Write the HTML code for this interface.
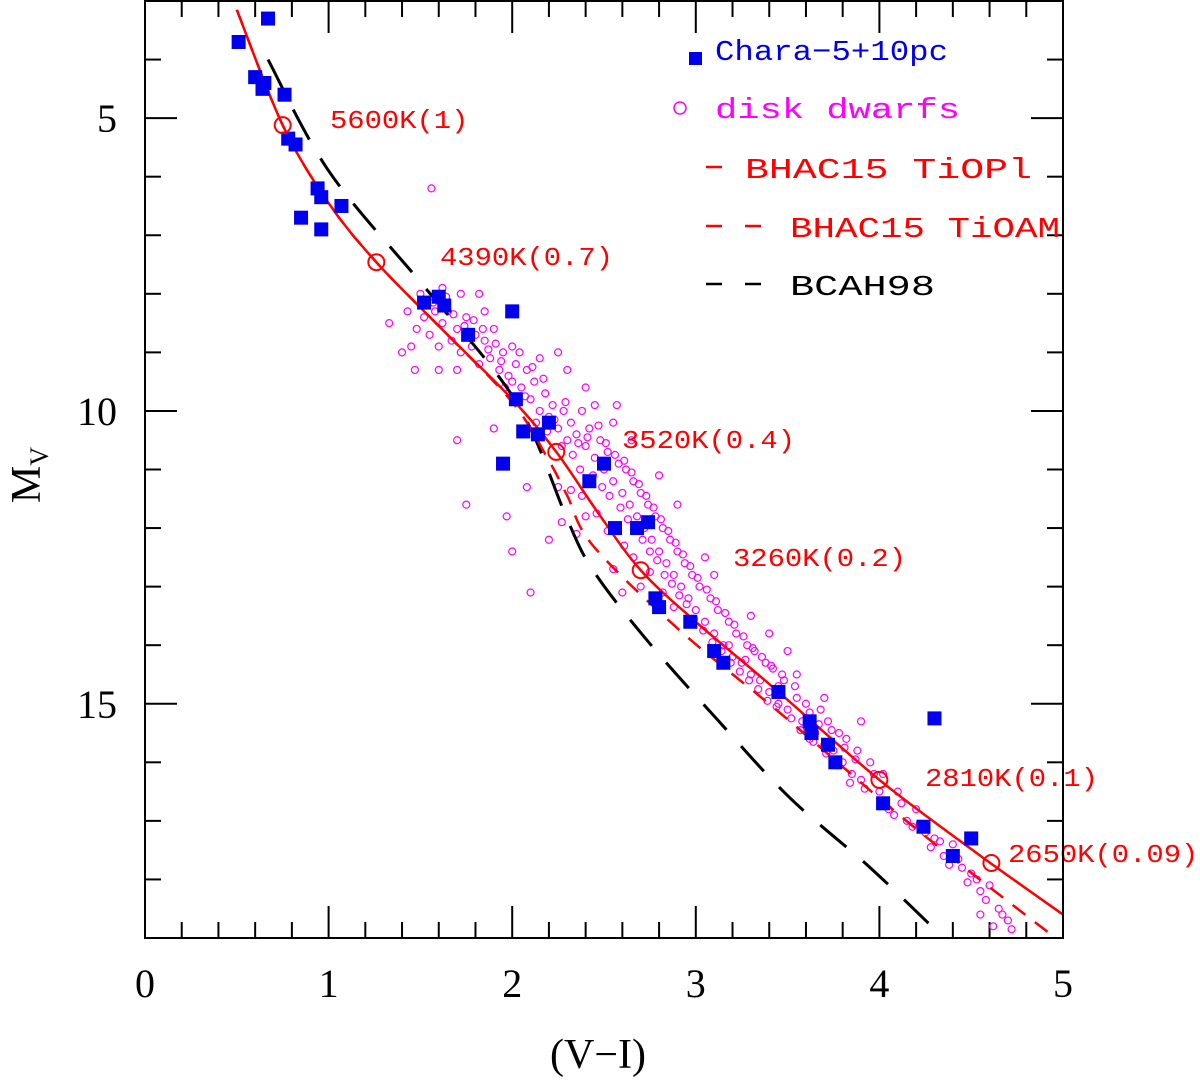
<!DOCTYPE html>
<html><head><meta charset="utf-8"><style>
html,body{margin:0;padding:0;background:#fff;}
svg{display:block;}
</style></head><body>
<svg id="chart" width="1200" height="1082" viewBox="0 0 1200 1082" xmlns="http://www.w3.org/2000/svg">
</svg>
<script>
const xTicks=[0,1,2,3,4,5];
const yTicks=[5,10,15];
const chara=[[0.51,3.7],[0.67,3.3],[0.60,4.3],[0.65,4.4],[0.64,4.5],[0.76,4.6],[0.78,5.35],[0.82,5.45],[0.94,6.2],[0.96,6.35],[0.85,6.7],[0.96,6.9],[1.07,6.5],[1.52,8.15],[1.6,8.05],[1.63,8.2],[1.76,8.7],[2.0,8.3],[2.02,9.8],[2.06,10.35],[2.14,10.4],[2.2,10.2],[1.95,10.9],[2.42,11.2],[2.5,10.9],[2.56,12.0],[2.68,12.0],[2.74,11.9],[2.78,13.2],[2.8,13.35],[2.97,13.6],[3.1,14.1],[3.15,14.3],[3.45,14.8],[3.62,15.3],[3.63,15.5],[3.72,15.7],[3.76,16.0],[4.02,16.7],[4.3,15.25],[4.24,17.1],[4.4,17.6],[4.5,17.3]];
const disk=[[1.43,8.3],[1.45,8.9],[1.48,8.6],[1.52,8.4],[1.55,8.7],[1.58,8.3],[1.60,8.9],[1.62,8.5],[1.65,8.3],[1.67,8.8],[1.70,8.6],[1.72,9.0],[1.75,8.4],[1.78,8.9],[1.80,8.7],[1.82,9.2],[1.85,8.8],[1.88,9.1],[1.56,6.2],[1.62,7.9],[1.72,8.0],[1.82,8.0],[1.60,9.3],[1.70,9.3],[1.90,8.6],[1.93,9.3],[1.95,9.0],[1.98,9.4],[2.02,9.2],[2.05,9.6],[2.08,9.3],[2.10,9.8],[2.12,9.5],[2.15,10.0],[2.18,9.7],[2.20,10.1],[2.22,9.9],[2.25,10.3],[2.28,10.0],[2.30,10.5],[2.32,10.2],[2.35,10.4],[2.38,10.0],[2.40,10.6],[2.42,10.3],[2.45,10.8],[2.48,10.5],[2.50,11.0],[2.52,10.7],[2.55,10.2],[2.45,9.9],[2.55,11.2],[2.58,10.9],[2.60,11.4],[2.62,11.0],[2.64,11.6],[2.66,11.2],[2.68,11.8],[2.70,11.4],[2.72,12.0],[2.74,11.6],[2.76,12.2],[2.78,11.8],[2.80,12.4],[2.82,12.0],[2.84,12.6],[2.86,12.2],[2.88,12.8],[2.90,12.4],[2.92,13.0],[2.94,12.6],[2.96,13.2],[2.98,12.8],[3.00,13.4],[3.02,13.0],[3.05,13.6],[3.08,13.2],[3.10,13.8],[3.12,13.4],[3.15,14.0],[3.18,13.6],[3.20,14.2],[3.22,13.8],[3.25,14.3],[3.28,14.0],[3.30,14.5],[3.32,14.1],[3.35,14.6],[3.38,14.3],[3.40,14.8],[3.42,14.4],[3.45,15.0],[3.48,14.6],[3.50,15.1],[3.55,14.9],[3.58,15.3],[3.60,15.0],[3.65,15.5],[3.68,15.1],[3.70,15.7],[3.72,15.3],[3.75,15.8],[3.78,15.5],[3.80,16.0],[3.82,15.6],[3.85,16.2],[3.88,15.8],[3.90,16.3],[3.95,16.0],[4.00,16.5],[4.02,16.2],[4.05,16.8],[4.10,16.5],[4.15,17.0],[4.20,16.8],[4.25,17.2],[4.30,17.3],[4.35,17.6],[4.40,17.4],[4.45,17.8],[4.50,17.9],[4.55,18.2],[4.60,18.1],[4.65,18.5],[4.70,18.7],[4.62,18.8],[4.55,18.6],[1.33,8.5],[1.40,9.0],[1.47,9.3],[1.70,10.5],[1.75,11.6],[1.90,10.3],[1.97,11.8],[2.00,12.4],[2.08,11.3],[2.10,13.1],[2.20,12.2],[2.27,11.9],[2.35,12.1],[2.25,11.3],[2.40,11.8],[2.55,12.7],[2.60,13.1],[2.70,13.0],[3.30,13.5],[3.40,13.8],[3.50,14.1],[3.55,14.5],[3.70,14.9],[3.90,15.3],[3.05,12.5],[3.10,12.8],[2.90,11.6],[2.80,11.1],[2.65,10.5],[2.57,9.9],[2.40,9.6],[2.30,9.3],[2.25,9.0],[2.15,9.1],[2.00,8.9],[1.85,8.3],
[1.50,8.0],[1.57,8.15],[1.64,8.05],[1.68,8.35],[1.74,8.55],[1.79,8.45],[1.84,8.6],[1.87,8.95],[1.91,8.85],[1.94,9.15],[1.96,9.6],[2.00,9.5],[2.04,9.0],[2.07,9.75],[2.11,9.25],[2.13,10.2],[2.17,9.45],[2.19,10.35],[2.23,10.15],[2.27,10.6],[2.29,9.85],[2.33,10.75],[2.36,10.55],[2.37,11.0],[2.41,10.45],[2.44,11.1],[2.47,10.25],[2.49,11.3],[2.51,10.55],[2.53,11.45],[2.56,10.75],[2.59,11.65],[2.61,10.85],[2.63,11.85],[2.65,11.05],[2.67,12.0],[2.69,11.25],[2.71,12.2],[2.73,11.45],[2.75,12.4],[2.77,11.65],[2.79,12.55],[2.81,11.85],[2.83,12.8],[2.85,12.05],[2.87,12.95],[2.89,12.25],[2.91,13.15],[2.93,12.45],[2.95,13.3],[2.97,12.65],[2.99,13.55],[3.01,12.85],[3.04,13.75],[3.06,13.05],[3.09,13.95],[3.11,13.25],[3.14,14.1],[3.16,13.45],[3.19,14.3],[3.21,13.65],[3.24,14.45],[3.26,13.85],[3.29,14.6],[3.31,14.05],[3.34,14.75],[3.36,14.2],[3.39,14.95],[3.41,14.35],[3.44,15.05],[3.47,14.5],[3.52,15.25],[3.54,14.7],[3.57,15.45],[3.62,15.15],[3.64,15.65],[3.67,15.35],[3.71,15.85],[3.74,15.45],[3.77,16.05],[3.81,15.75],[3.84,16.35],[3.87,15.95],[3.92,16.45],[3.97,16.2],[4.03,16.65],[4.08,16.9],[4.12,16.7],[4.18,17.1],[4.22,17.05],[4.28,17.45],[4.33,17.35],[4.38,17.75],[4.43,17.65],[4.48,18.05],[4.53,18.0],[4.58,18.35],[4.67,18.6],[4.72,18.85],[2.32,11.35],[2.38,11.45],[2.46,11.75],[2.52,12.05],[2.61,12.3],[2.66,12.5],[2.75,12.75],[2.82,13.1],[2.88,13.35],[3.18,14.0],[3.27,14.25],[3.45,14.7],[3.62,15.6]];
const tioplX=[0.50,0.75,1.0,1.26,1.6,2.0,2.24,2.47,2.70,3.0,3.44,4.00,4.53,5.0];
const tioplY=[3.15,5.12,6.45,7.46,8.55,9.8,10.7,11.75,12.72,13.6,14.77,16.3,17.55,18.6];
const tioamX=[0.50,0.75,1.0,1.26,1.6,2.0,2.2,2.3,2.44,2.91,3.46,4.07,4.53,4.96];
const tioamY=[3.15,5.12,6.45,7.46,8.55,9.85,10.85,11.45,12.3,13.74,15.16,16.8,17.96,19.0];
const bcahX=[0.67,1.0,1.5,1.9,2.1,2.3,2.44,2.73,3.12,3.51,3.95,4.35];
const bcahY=[4.0,5.9,7.8,9.3,10.3,11.85,12.72,13.9,15.28,16.6,17.8,19.0];
const markX=[0.75,1.26,2.24,2.70,4.00,4.61];
const markY=[5.12,7.46,10.7,12.72,16.3,17.72];
const markLabels=["5600K(1)","4390K(0.7)","3520K(0.4)","3260K(0.2)","2810K(0.1)","2650K(0.09)"];

const X0=145,X1=1063,Y0=1,Y1=938;
const sx=v=>X0+(v-0)/(5-0)*(X1-X0);
const sy=v=>Y0+(v-3)/(19-3)*(Y1-Y0);
const NS="http://www.w3.org/2000/svg";
const svg=document.getElementById('chart');
function mk(tag,attrs,parent){const e=document.createElementNS(NS,tag);for(const k in attrs)e.setAttribute(k,attrs[k]);(parent||svg).appendChild(e);return e;}

const defs=mk('defs',{});
const cp=mk('clipPath',{id:'pc'},defs);
mk('rect',{x:X0,y:Y0,width:X1-X0,height:Y1-Y0},cp);

for(let i=0;i<=25;i++){
  const v=i*0.2,x=sx(v),L=(i%5===0)?32:16;
  const t1=mk('line',{x1:x,y1:Y1,x2:x,y2:Y1-L,stroke:'#000','stroke-width':2});
  
  
  const t2=mk('line',{x1:x,y1:Y0,x2:x,y2:Y0+L,stroke:'#000','stroke-width':2});
  
  
}
for(let v=4;v<=18;v++){
  const y=sy(v),L=(v%5===0)?32:16;
  const t1=mk('line',{x1:X0,y1:y,x2:X0+L,y2:y,stroke:'#000','stroke-width':2});
  
  
  const t2=mk('line',{x1:X1,y1:y,x2:X1-L,y2:y,stroke:'#000','stroke-width':2});
  
  
}
xTicks.forEach(v=>{
  const t=mk('text',{x:sx(v),y:997,'text-anchor':'middle','font-family':'Liberation Serif, serif','font-size':40});
  t.textContent=v;
  
  
});
yTicks.forEach(v=>{
  const t=mk('text',{x:117,y:sy(v)+14,'text-anchor':'end','font-family':'Liberation Serif, serif','font-size':40});
  t.textContent=v;
  
  
});
const xl=mk('text',{x:598,y:1068,'text-anchor':'middle','font-family':'Liberation Serif, serif','font-size':42});
xl.textContent='(V\u2212I)';


const yl=mk('text',{x:0,y:0,transform:'translate(40,475) rotate(-90)','text-anchor':'middle','font-family':'Liberation Serif, serif','font-size':42});
yl.innerHTML='M<tspan font-size="26" dy="8">V</tspan>';



const plot=mk('g',{'clip-path':'url(#pc)'});



function pathD(xs,ys){
  const p=xs.map((x,i)=>[sx(x),sy(ys[i])]);
  let d='M'+p[0][0]+','+p[0][1];
  for(let i=0;i<p.length-1;i++){
    const a=p[Math.max(0,i-1)],b=p[i],c=p[i+1],e=p[Math.min(p.length-1,i+2)];
    const c1=[b[0]+(c[0]-a[0])/6,b[1]+(c[1]-a[1])/6],c2=[c[0]-(e[0]-b[0])/6,c[1]-(e[1]-b[1])/6];
    d+=' C'+c1+' '+c2+' '+c;
  }
  return d;
}
disk.forEach(p=>{
  const c=mk('circle',{cx:sx(p[0]),cy:sy(p[1]),r:3.5,fill:'none',stroke:'#ff00ff','stroke-width':1.2},plot);
  
  
});
const l3=mk('path',{d:pathD(bcahX,bcahY),fill:'none',stroke:'#000','stroke-width':3,'stroke-dasharray':'34,22'},plot);


const l2=mk('path',{d:pathD(tioamX,tioamY),fill:'none',stroke:'#f00','stroke-width':2.5,'stroke-dasharray':'16,12'},plot);


const l1=mk('path',{d:pathD(tioplX,tioplY),fill:'none',stroke:'#f00','stroke-width':2.5},plot);


chara.forEach(p=>{
  const r=mk('rect',{x:sx(p[0])-7,y:sy(p[1])-7,width:14,height:14,fill:'#0000ee'},plot);
  
  
});
const lblPos=[[330,128],[440,265],[622,448],[733,566],[925,786],[1008,862]];
markX.forEach((v,i)=>{
  const c=mk('circle',{cx:sx(v),cy:sy(markY[i]),r:8,fill:'none',stroke:'#f00','stroke-width':2});
  
  
  const lab=markLabels[i];
  const t=mk('text',{x:lblPos[i][0],y:lblPos[i][1],fill:'#f00','font-family':'Liberation Mono, monospace','font-size':26,textLength:lab.length*17.3,lengthAdjust:'spacingAndGlyphs'});
  t.textContent=lab;
  
  
});
const fr=mk('rect',{x:X0,y:Y0,width:X1-X0,height:Y1-Y0,fill:'none',stroke:'#000','stroke-width':2});



const lg=mk('g',{});


mk('rect',{x:689,y:52,width:13,height:13,fill:'#0000ee'},lg);
mk('circle',{cx:680,cy:108,r:6,fill:'none',stroke:'#ff00ff','stroke-width':1.5},lg);
mk('line',{x1:706,y1:167,x2:722,y2:167,stroke:'#f00','stroke-width':2.5},lg);
mk('line',{x1:706,y1:226,x2:722,y2:226,stroke:'#f00','stroke-width':2.5},lg);
mk('line',{x1:745,y1:226,x2:761,y2:226,stroke:'#f00','stroke-width':2.5},lg);
mk('line',{x1:706,y1:284,x2:722,y2:284,stroke:'#000','stroke-width':2.5},lg);
mk('line',{x1:745,y1:284,x2:761,y2:284,stroke:'#000','stroke-width':2.5},lg);
const legTexts=[['Chara\u22125+10pc',715,60,233,'#0000ee'],['disk dwarfs',715,118,245,'#ff00ff'],['BHAC15 TiOPl',745,178,287,'#f00'],['BHAC15 TiOAM',790,237,270,'#f00'],['BCAH98',790,295,145,'#000']];
legTexts.forEach(a=>{
  const t=mk('text',{x:a[1],y:a[2],fill:a[4],'font-family':'Liberation Mono, monospace','font-size':29,textLength:a[3],lengthAdjust:'spacingAndGlyphs'},lg);
  t.textContent=a[0];
  
  
});
</script>
</body></html>
